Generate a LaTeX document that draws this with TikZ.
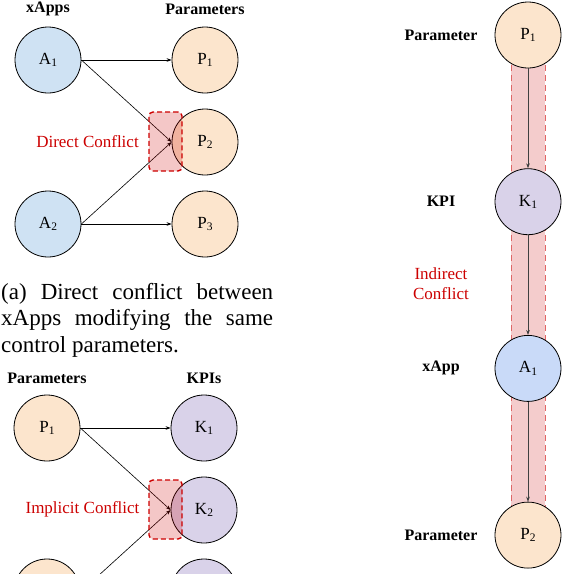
\documentclass[tikz,border=0pt]{standalone}
\usepackage{fontspec}
\setmainfont{Liberation Serif}
\usetikzlibrary{positioning,arrows.meta}
\usepackage{xcolor}

\definecolor{appblue}{HTML}{CFE2F3}
\definecolor{appbluer}{HTML}{C9DAF8}
\definecolor{parorange}{HTML}{FCE5CD}
\definecolor{kpipurple}{HTML}{D9D2E9}
\definecolor{clashred}{HTML}{CC0000}
\definecolor{bandred}{HTML}{E06666}
\definecolor{bandfill}{HTML}{F4CCCC}
\newcommand{\idx}[1]{\raisebox{-.3ex}{\fontsize{11.5}{11.5}\selectfont #1}}

\begin{document}
\begin{tikzpicture}[x=1pt,y=1pt,node distance=157pt,on grid,
	>={Stealth[length=5pt,width=3.6pt]},
	bubble/.style={circle,draw,line width=0.8pt,minimum size=66pt,inner sep=0pt,
		font=\fontsize{17}{18}\selectfont},
	app/.style={bubble,fill=appblue},
	par/.style={bubble,fill=parorange},
	kpi/.style={bubble,fill=kpipurple},
	hdr/.style={font=\fontsize{16}{18}\selectfont\bfseries},
	tag/.style={text=clashred,font=\fontsize{17}{20}\selectfont,align=center},
	clash/.style={draw=clashred,dash pattern=on 5pt off 3pt,line width=1.4pt,rounded corners=4pt,
		fill=clashred,fill opacity=0.22,minimum width=33pt,minimum height=59pt,inner sep=0pt}]
	\clip (0,0) rectangle (569,-574);
	% direct conflict
	\node[app] (a_1) at (48,-60) {A\idx{1}};
	\node[par] (p_1) [right=of a_1] {P\idx{1}};
	\node[par] (p_2) [below=82pt of p_1] {P\idx{2}};
	\node[par] (p_3) [below=82pt of p_2] {P\idx{3}};
	\node[app] (a_2) [left=of p_3] {A\idx{2}};
	\node[hdr] [above=51pt of a_1] {xApps};
	\node[hdr] [above=51pt of p_1] {Parameters};
	\path[->,line width=0.6pt]
	(a_1) edge (p_1)
	(a_1.east) edge (p_2.west)
	(a_2.east) edge (p_2.west)
	(a_2) edge (p_3);
	\node[clash] (dc) at (165.5,-141.5) {};
	\node[tag] [left=78pt of dc] {Direct Conflict};
	\node[anchor=north west,inner sep=0pt,text width=272pt,align=justify,
		font=\fontsize{23}{26.5}\selectfont] (cap) at (1,-283)
		{(a) Direct conflict between xApps modifying the same control parameters.};
	% implicit conflict
	\node[par] (q_1) at (47,-428) {P\idx{1}};
	\node[kpi] (k_1) [right=of q_1] {K\idx{1}};
	\node[kpi] (k_2) [below=82pt of k_1] {K\idx{2}};
	\node[kpi] (k_3) [below=82pt of k_2] {};
	\node[par] (q_2) [left=of k_3] {};
	\node[hdr] [above=50pt of q_1] {Parameters};
	\node[hdr] [above=50pt of k_1] {KPIs};
	\path[->,line width=0.6pt]
	(q_1) edge (k_1)
	(q_1.east) edge (k_2.west)
	(q_2.east) edge (k_2.west);
	\node[clash] (ic) at (165.5,-509.5) {};
	\node[tag] [left=83pt of ic] {Implicit Conflict};
	% indirect conflict
	\fill[bandfill] (511,-35) rectangle (545,-535);
	\draw[bandred,dash pattern=on 6pt off 4pt,line width=0.9pt] (511,-35) -- (511,-535) (545,-35) -- (545,-535);
	\node[par] (r_1) at (528,-35) {P\idx{1}};
	\node[kpi] (r_2) [below=166.7pt of r_1] {K\idx{1}};
	\node[app,fill=appbluer] (r_3) [below=166.7pt of r_2] {A\idx{1}};
	\node[par] (r_4) [below=166.7pt of r_3] {P\idx{2}};
	\node[hdr] [left=87pt of r_1] {Parameter};
	\node[hdr] [left=87pt of r_2] {KPI};
	\node[hdr] [left=87pt of r_3] {xApp};
	\node[hdr] [left=87pt of r_4] {Parameter};
	\node[tag] at (441,-284) {Indirect\\Conflict};
	\path[->,line width=0.8pt,draw=black!75]
	(r_1) edge (r_2)
	(r_2) edge (r_3)
	(r_3) edge (r_4);
\end{tikzpicture}
\end{document}
